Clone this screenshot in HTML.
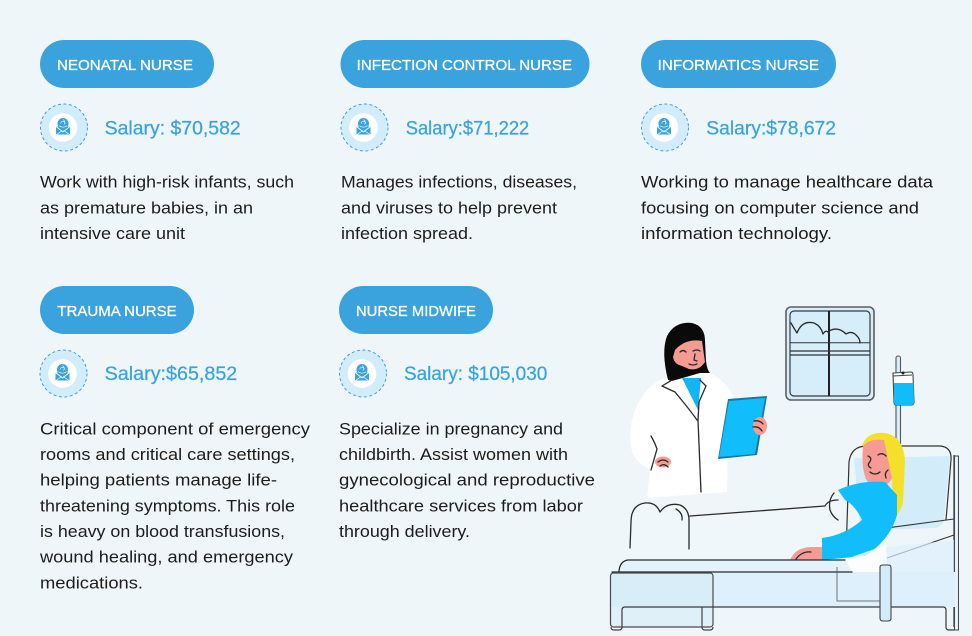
<!DOCTYPE html>
<html><head><meta charset="utf-8">
<style>
html,body{margin:0;padding:0;background:#eff6fa;}
body{width:972px;height:636px;overflow:hidden;}
svg{display:block;}
.p{font-family:"Liberation Sans",sans-serif;font-size:15px;fill:#fff;stroke:#fff;stroke-width:0.3px;}
.s{font-family:"Liberation Sans",sans-serif;font-size:19px;fill:#3aa3dd;stroke:#3aa3dd;stroke-width:0.25px;}
.d{font-family:"Liberation Sans",sans-serif;font-size:17px;fill:#1c1c1c;}
.o{fill:none;stroke:#2a2a2a;stroke-width:1.3;stroke-linecap:round;stroke-linejoin:round;}
</style></head>
<body>
<svg width="972" height="636" viewBox="0 0 972 636" xmlns="http://www.w3.org/2000/svg">
<rect width="972" height="636" fill="#eff6fa"/>
<defs>
<g id="ic">
  <circle cx="0" cy="0" r="23.5" fill="#d3ecfa" stroke="#3aa3dd" stroke-width="1" stroke-dasharray="3 2.5"/>
  <circle cx="-1" cy="0" r="14.3" fill="#ffffff"/>
  <path d="M-8 -1 L6 -1 L6 7 L-8 7 Z" fill="#3aa3dd"/>
  <path d="M-8 -1 L-1 4.5 L6 -1" fill="none" stroke="#fff" stroke-width="0.8"/>
  <path d="M-7.5 7 L-1.5 3 M5.5 7 L-0.5 3" fill="none" stroke="#fff" stroke-width="0.7"/>
  <circle cx="-1" cy="-4" r="5.5" fill="#3aa3dd"/>
  <path d="M-3.2 -4 A2.2 2.2 0 1 1 1.2 -4 M-5 -1.8 Q-1 1.2 3 -1.8 M-1 -8 Q2 -6 0 -3" fill="none" stroke="#fff" stroke-width="0.6"/>
</g>
</defs>

<!-- Pills -->
<rect x="40" y="40" width="174" height="48" rx="24" fill="#3aa3dd"/>
<text class="p" x="57" y="70" textLength="136" lengthAdjust="spacingAndGlyphs">NEONATAL NURSE</text>
<rect x="340.5" y="40" width="249" height="48" rx="24" fill="#3aa3dd"/>
<text class="p" x="356.7" y="70" textLength="215.3" lengthAdjust="spacingAndGlyphs">INFECTION CONTROL NURSE</text>
<rect x="641" y="40" width="195" height="48" rx="24" fill="#3aa3dd"/>
<text class="p" x="657.7" y="70" textLength="161.3" lengthAdjust="spacingAndGlyphs">INFORMATICS NURSE</text>
<rect x="40" y="286" width="154" height="48" rx="24" fill="#3aa3dd"/>
<text class="p" x="57.3" y="316" textLength="119.4" lengthAdjust="spacingAndGlyphs">TRAUMA NURSE</text>
<rect x="339" y="286" width="154" height="48" rx="24" fill="#3aa3dd"/>
<text class="p" x="356" y="316" textLength="120" lengthAdjust="spacingAndGlyphs">NURSE MIDWIFE</text>

<!-- Icons -->
<use href="#ic" x="64" y="127.5"/>
<use href="#ic" x="364.5" y="127.5"/>
<use href="#ic" x="665" y="127.5"/>
<use href="#ic" x="63.5" y="373.5"/>
<use href="#ic" x="363" y="373.5"/>

<!-- Salaries -->
<text class="s" x="104.7" y="134.3" textLength="136" lengthAdjust="spacingAndGlyphs">Salary: $70,582</text>
<text class="s" x="405.7" y="134.3" textLength="123.6" lengthAdjust="spacingAndGlyphs">Salary:$71,222</text>
<text class="s" x="706.3" y="134.3" textLength="129.7" lengthAdjust="spacingAndGlyphs">Salary:$78,672</text>
<text class="s" x="104.7" y="380" textLength="132.6" lengthAdjust="spacingAndGlyphs">Salary:$65,852</text>
<text class="s" x="404" y="380" textLength="143.3" lengthAdjust="spacingAndGlyphs">Salary: $105,030</text>

<!-- Descriptions row 1 -->
<text class="d" x="40" y="187.7" textLength="254" lengthAdjust="spacingAndGlyphs">Work with high-risk infants, such</text>
<text class="d" x="40" y="213.3" textLength="213" lengthAdjust="spacingAndGlyphs">as premature babies, in an</text>
<text class="d" x="40" y="239" textLength="145" lengthAdjust="spacingAndGlyphs">intensive care unit</text>

<text class="d" x="341" y="187.7" textLength="236" lengthAdjust="spacingAndGlyphs">Manages infections, diseases,</text>
<text class="d" x="341" y="213.3" textLength="216" lengthAdjust="spacingAndGlyphs">and viruses to help prevent</text>
<text class="d" x="341" y="239" textLength="132" lengthAdjust="spacingAndGlyphs">infection spread.</text>

<text class="d" x="641" y="187.7" textLength="292" lengthAdjust="spacingAndGlyphs">Working to manage healthcare data</text>
<text class="d" x="641" y="213.3" textLength="278" lengthAdjust="spacingAndGlyphs">focusing on computer science and</text>
<text class="d" x="641" y="239" textLength="191" lengthAdjust="spacingAndGlyphs">information technology.</text>

<!-- Descriptions row 2 -->
<text class="d" x="40" y="434.3" textLength="270" lengthAdjust="spacingAndGlyphs">Critical component of emergency</text>
<text class="d" x="40" y="460" textLength="255" lengthAdjust="spacingAndGlyphs">rooms and critical care settings,</text>
<text class="d" x="40" y="485.6" textLength="237" lengthAdjust="spacingAndGlyphs">helping patients manage life-</text>
<text class="d" x="40" y="511.3" textLength="255" lengthAdjust="spacingAndGlyphs">threatening symptoms. This role</text>
<text class="d" x="40" y="537" textLength="245" lengthAdjust="spacingAndGlyphs">is heavy on blood transfusions,</text>
<text class="d" x="40" y="562.6" textLength="253" lengthAdjust="spacingAndGlyphs">wound healing, and emergency</text>
<text class="d" x="40" y="588.3" textLength="103" lengthAdjust="spacingAndGlyphs">medications.</text>

<text class="d" x="339" y="434.3" textLength="224" lengthAdjust="spacingAndGlyphs">Specialize in pregnancy and</text>
<text class="d" x="339" y="460" textLength="229" lengthAdjust="spacingAndGlyphs">childbirth. Assist women with</text>
<text class="d" x="339" y="485.6" textLength="256" lengthAdjust="spacingAndGlyphs">gynecological and reproductive</text>
<text class="d" x="339" y="511.3" textLength="244" lengthAdjust="spacingAndGlyphs">healthcare services from labor</text>
<text class="d" x="339" y="537" textLength="131" lengthAdjust="spacingAndGlyphs">through delivery.</text>

<!-- ===== Illustration ===== -->
<!-- Window -->
<rect x="786" y="307" width="88" height="93" rx="5" fill="#d6edfa" stroke="#5a5f63" stroke-width="1.6"/>
<rect x="790" y="311" width="80" height="85" rx="4" fill="none" stroke="#3a3a3a" stroke-width="1.2"/>
<path d="M829 311 L829 396" stroke="#222" stroke-width="2"/>
<path d="M790 351 L870 351 M790 355 L870 355" stroke="#333" stroke-width="1.2"/>
<path d="M790 342.7 L870 342.7" stroke="#333" stroke-width="1"/>
<path class="o" d="M791 323 Q795 330 797 333 Q802 320 814 323 Q821 326 823 334 Q826 329 829 333" stroke-width="1.1"/>
<path class="o" d="M829 331 Q838 326 846 334 Q852 330 857 336 Q860 339 860 343" stroke-width="1.1"/>

<!-- IV pole -->
<rect x="896" y="356" width="4.5" height="95" rx="2" fill="#d6edfa" stroke="#555" stroke-width="1.1"/>
<path d="M893 373 L911 372 Q913 372 913 375 L914 402 Q914 405 911 405 L896 405 Q894 405 894 402 Z" fill="#ffffff" stroke="#444" stroke-width="1.1"/>
<path d="M894 383 L913.5 383 L914 402 Q914 405 911 405 L896 405 Q894 405 894 402 Z" fill="#12bcfb"/>
<path d="M893 376 L912 375" stroke="#444" stroke-width="0.9"/>
<circle cx="903" cy="373" r="1.5" fill="#222"/>

<!-- Headboard + pillow -->
<path d="M846 555 L849 462 Q851 446 867 446 L940 446 Q952 447 951 460 L946 520" fill="#eef6fa" stroke="#333" stroke-width="1.2"/>
<path d="M854 458 L950 456 L944 520 Q942 528 934 528 L880 530 L860 528 Z" fill="#d3ecfa"/>
<path d="M954 455 L954 627" stroke="#333" stroke-width="1.2"/>
<rect x="954.5" y="456" width="4" height="174" fill="#e4f2fb" stroke="#444" stroke-width="1"/>
<path d="M887 528 L954 519 M887 558 L954 535" stroke="#333" stroke-width="1.1"/>
<path d="M880 548 L954 540 L954 606 L880 606 Z" fill="#ddf0fb" opacity="0.7"/>

<!-- Doctor coat -->
<path d="M662 379 Q640 390 632 420 Q626 452 640 463 L650 470 L647 498 L727 492 L728 440 L734 398 Q728 382 708 372 L690 373 Z" fill="#ffffff"/>
<!-- blue shirt -->
<path d="M682 378 L701 378 L698 410 Z" fill="#12b4f2"/>
<!-- hair -->
<path d="M668 380 Q661 352 667 336 Q675 321 692 323 Q705 326 705 341 L706 361 Q707 370 710 373 L700 373 L672 381 Z" fill="#0a0a0a"/>
<!-- face -->
<path d="M675 350 Q686 338 702 341 L705 362 Q699 371 689 369 L682 366 Q674 364 673 357 Z" fill="#f59b93"/>
<path class="o" d="M680 352 Q683 349 686 352 M693 351 Q697 349 700 351 M695 354 L694 360 L697 361 M689 364 Q693 366 697 364" stroke-width="1"/>
<!-- lapels / coat lines -->
<path class="o" d="M672 380 L662 386 L675 392 Q690 410 697 420 M700 380 L706 386 L699 402 L698 420 L701 492" stroke-width="1.1"/>
<path class="o" d="M651 436 Q655 443 657 449 L651 470" stroke-width="1.1"/>
<!-- hands -->
<ellipse cx="663" cy="462" rx="8" ry="5.5" fill="#f59b93"/>
<path class="o" d="M658 462 Q663 458 668 462 M660 466 Q664 463 668 467" stroke-width="0.9"/>
<!-- tablet -->
<path d="M728 399 L767 396 L757 455 L718 459 Z" fill="#1a78a0"/>
<path d="M729 401 L765 398 L755 454 L719 457 Z" fill="#12bdfb"/>
<ellipse cx="760" cy="426" rx="7" ry="9" fill="#f59b93"/>
<path class="o" d="M754 421 Q760 420 763 424 M753 427 Q759 426 762 431" stroke-width="0.9"/>

<!-- Blanket -->
<path d="M630 560 L630 525 Q630 505 645 503 Q656 502 660 512 Q667 502 680 505 Q690 510 690 516 L825 506 Q832 500 840 500 L846 560 Z" fill="#f0f7fb"/>
<path class="o" d="M630 548 L631 522 Q631 505 645 503 Q656 502 660 512 Q667 502 680 505 Q689 509 689 520 L689 549 M690 516 L825 506 Q828 500 838 500"/>
<path class="o" d="M676 509 Q683 513 682 520" stroke-width="1"/>

<!-- Patient -->
<path d="M862 445 Q868 431 885 433 Q903 436 905 460 L903 502 Q900 515 893 518 L892 480 Z" fill="#f4e02b"/>
<path d="M863 446 Q870 438 884 440 L892 478 Q887 488 878 488 L867 481 Q861 470 863 446 Z" fill="#f59b93"/>
<path class="o" d="M868 456 Q873 458 869 463 Q867 466 871 468 M878 455 Q882 452 886 456 M870 472 Q875 476 880 472 M888 470 Q884 473 886 478" stroke-width="1"/>
<path d="M838 490 Q860 480 885 482 L897 495 L897 515 Q890 540 865 556 L822 560 L822 538 Q845 535 862 520 Q855 505 845 500 Z" fill="#12bdfb"/>
<path class="o" d="M834 493 Q828 500 830 510 Q832 516 838 520" stroke-width="1"/>
<path d="M790 560 Q795 548 810 547 L822 547 L822 560 Z" fill="#f59b93"/>
<path class="o" d="M796 559 Q802 551 811 552" stroke-width="1"/>
<!-- draped sheet -->
<path d="M843 560 L886 545 L888 590 Q880 598 873 595 Q860 580 843 560 Z" fill="#ffffff" opacity="0.75"/>

<!-- Bed frame -->
<rect x="610" y="572" width="345" height="35" fill="#ddf0fb"/>
<path d="M620 572 L620 565 Q622 560 628 560 L845 560 L852 572 Z" fill="#e3f2fb"/>
<path class="o" d="M619 571 Q620 561 628 560 L845 560 M612 572 L852 572"/>
<rect x="610.5" y="573" width="102.5" height="54" rx="3" fill="#d4ecf9" fill-opacity="0.6" stroke="#4a4a4a" stroke-width="1.2"/>
<path d="M622 627 L622 610 Q622 607 625 607 L943 607 Q946 607 946 610 L946 627 Q946 630 949 630 L954 630" fill="none" stroke="#3a3a3a" stroke-width="1.2"/>
<path d="M611 627 Q611 630 614 630 L619 630 Q622 630 622 627" fill="none" stroke="#444" stroke-width="1.2"/>
<path d="M702 607 L702 627 Q702 630 705 630 L710 630 Q713 630 713 627" fill="none" stroke="#444" stroke-width="1.2"/>
<path d="M880 567 Q880 565 883 565 L888 565 Q891 565 891 568 L891 618 Q891 621 888 621 L883 621 Q880 621 880 618 Z" fill="#d4ecf9" stroke="#444" stroke-width="1.1"/>
<path d="M837 567 L837 601 L880 601" fill="none" stroke="#555" stroke-width="1" opacity="0.8"/>
</svg>
</body></html>
